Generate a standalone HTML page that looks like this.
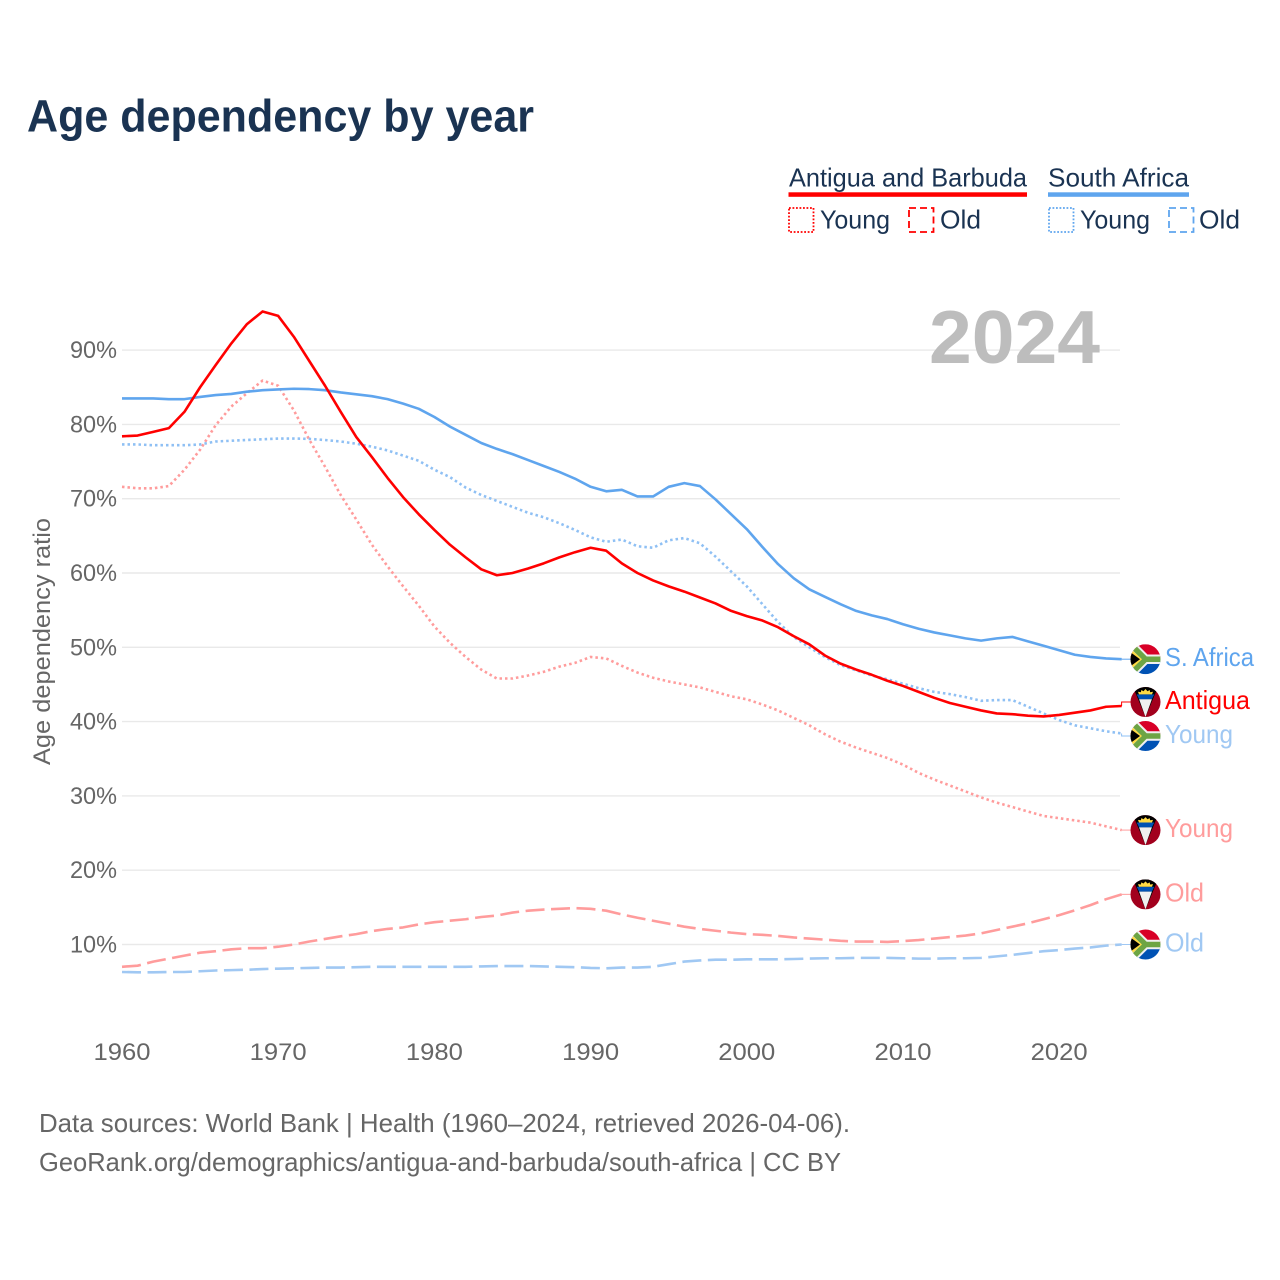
<!DOCTYPE html>
<html lang="en">
<head>
<meta charset="utf-8">
<title>Age dependency by year</title>
<style>
html,body{margin:0;padding:0;background:#fff;}
svg{display:block;font-family:"Liberation Sans",sans-serif;}
</style>
</head>
<body>
<svg id="chart" xmlns="http://www.w3.org/2000/svg" width="1280" height="1280" viewBox="0 0 1280 1280">
<defs>
<clipPath id="flag-clip"><circle cx="0" cy="0" r="15"/></clipPath>
<g id="flag-za" clip-path="url(#flag-clip)">
<rect x="-15" y="-15" width="30" height="15" fill="#d80027"/>
<rect x="-15" y="0" width="30" height="15" fill="#0052b4"/>
<path d="M-15,-15 L0,0 L15,0 M-15,15 L0,0" fill="none" stroke="#f0f0f0" stroke-width="9.5"/>
<path d="M-15,-15 L0,0 L15,0 M-15,15 L0,0" fill="none" stroke="#6da544" stroke-width="5.5"/>
<polygon points="-15,-10.5 -3.5,0 -15,10.5" fill="#ffda44"/>
<polygon points="-15,-7 -5.5,0 -15,7" fill="#000"/>
</g>
<g id="flag-ag" clip-path="url(#flag-clip)">
<rect x="-15" y="-15" width="30" height="30" fill="#a2001d"/>
<polygon points="-12.5,-15 12.5,-15 0,15" fill="#000"/>
<polygon points="-8.8,-7.6 8.8,-7.6 6.4,-2.7 -6.4,-2.7" fill="#0052b4"/>
<polygon points="-6.4,-2.7 6.4,-2.7 0,15" fill="#f0f0f0"/>
<path d="M-6.5,-7.6 L-7.5,-10.2 L-4.6,-9.8 L-4.2,-12 L-2,-10.8 L0,-13 L2,-10.8 L4.2,-12 L4.6,-9.8 L7.5,-10.2 L6.5,-7.6 Z" fill="#ffda44"/>
</g>
</defs>

<rect x="0" y="0" width="1280" height="1280" fill="#fff"/>

<text x="27" y="131.5" font-size="45" font-weight="700" fill="#1a3352" textLength="507" lengthAdjust="spacingAndGlyphs">Age dependency by year</text>

<g font-size="26" fill="#1a3352">
  <text x="789" y="186.5" textLength="238" lengthAdjust="spacingAndGlyphs">Antigua and Barbuda</text>
  <rect x="788.5" y="192.3" width="238.5" height="4.5" fill="#ff0000"/>
  <rect x="789" y="208" width="24.5" height="24" fill="none" stroke="#ff0000" stroke-width="1.8" stroke-dasharray="1.8 1.7"/>
  <text x="820" y="228.5" textLength="70" lengthAdjust="spacingAndGlyphs">Young</text>
  <rect x="909" y="208" width="24.5" height="24" fill="none" stroke="#ff0000" stroke-width="1.8" stroke-dasharray="7 4"/>
  <text x="940" y="228.5" textLength="41" lengthAdjust="spacingAndGlyphs">Old</text>
  <text x="1048" y="186.5" textLength="141" lengthAdjust="spacingAndGlyphs">South Africa</text>
  <rect x="1048" y="192.3" width="141" height="4.5" fill="#5fa5ee"/>
  <rect x="1049" y="208" width="24.5" height="24" fill="none" stroke="#5fa5ee" stroke-width="1.8" stroke-dasharray="1.8 1.7"/>
  <text x="1080" y="228.5" textLength="70" lengthAdjust="spacingAndGlyphs">Young</text>
  <rect x="1169" y="208" width="24.5" height="24" fill="none" stroke="#5fa5ee" stroke-width="1.8" stroke-dasharray="7 4"/>
  <text x="1199" y="228.5" textLength="41" lengthAdjust="spacingAndGlyphs">Old</text>
</g>

<g id="grid"></g>
<g id="y-axis"></g>
<g id="x-axis"></g>

<text x="929" y="363" font-size="75" font-weight="700" fill="#bdbdbd" textLength="171" lengthAdjust="spacingAndGlyphs">2024</text>

<text transform="translate(50,765) rotate(-90)" font-size="24" fill="#666666" textLength="247" lengthAdjust="spacingAndGlyphs">Age dependency ratio</text>

<g id="series"></g>
<g id="end-labels"></g>

<g font-size="26" fill="#666666">
  <text x="39" y="1132" textLength="811" lengthAdjust="spacingAndGlyphs">Data sources: World Bank | Health (1960–2024, retrieved 2026-04-06).</text>
  <text x="39" y="1171" textLength="802" lengthAdjust="spacingAndGlyphs">GeoRank.org/demographics/antigua-and-barbuda/south-africa | CC BY</text>
</g>
</svg>

<script>
const years = [];
for (let yr = 1960; yr <= 2024; yr++) years.push(yr);

const xTickYears = [1960, 1970, 1980, 1990, 2000, 2010, 2020];
const yTickValues = [10, 20, 30, 40, 50, 60, 70, 80, 90];

const antiguaTotal = [78.4,78.5,79,79.5,81.7,85,88,90.9,93.5,95.2,94.6,91.8,88.5,85.2,81.7,78.3,75.6,72.8,70.2,67.9,65.8,63.8,62.1,60.5,59.7,60,60.6,61.3,62.1,62.8,63.4,63,61.3,60,59,58.2,57.5,56.7,55.9,54.9,54.2,53.6,52.7,51.5,50.4,48.9,47.8,47,46.3,45.5,44.8,44,43.2,42.5,42,41.5,41.1,41,40.8,40.7,40.9,41.2,41.5,42,42.1];
const antiguaYoung = [71.6,71.4,71.4,71.7,73.9,76.6,79.9,82.4,84.2,85.9,85.2,81.9,77.9,74.3,70.5,67.2,63.8,60.9,58.2,55.6,52.8,50.6,48.7,47,45.8,45.8,46.2,46.7,47.4,47.9,48.7,48.5,47.5,46.6,45.9,45.4,45,44.6,44,43.4,43,42.3,41.5,40.5,39.5,38.3,37.3,36.5,35.8,35.1,34.2,33.1,32.2,31.4,30.6,29.8,29.1,28.5,27.9,27.3,27,26.7,26.4,25.9,25.4];
const antiguaOld = [7,7.15,7.7,8.1,8.5,8.9,9.1,9.35,9.5,9.5,9.7,10,10.4,10.75,11.1,11.4,11.8,12.1,12.3,12.7,13,13.2,13.4,13.7,13.9,14.3,14.55,14.7,14.8,14.9,14.8,14.55,14.05,13.6,13.2,12.8,12.4,12.1,11.85,11.6,11.4,11.3,11.15,10.95,10.8,10.65,10.5,10.4,10.4,10.35,10.45,10.6,10.8,11,11.2,11.5,11.95,12.4,12.85,13.4,13.95,14.6,15.3,16.1,16.75];
const southAfricaTotal = [83.5,83.5,83.5,83.4,83.4,83.7,83.95,84.1,84.4,84.6,84.7,84.8,84.75,84.6,84.3,84.05,83.8,83.4,82.8,82.1,81,79.7,78.6,77.5,76.7,76,75.2,74.4,73.6,72.7,71.6,71,71.2,70.3,70.3,71.6,72.1,71.7,69.9,67.9,65.9,63.5,61.2,59.3,57.8,56.8,55.8,54.9,54.3,53.8,53.1,52.5,52,51.6,51.2,50.9,51.2,51.4,50.8,50.2,49.6,49,48.7,48.5,48.4];
const southAfricaYoung = [77.3,77.3,77.2,77.2,77.2,77.3,77.7,77.8,77.9,78,78.1,78.1,78.05,77.9,77.7,77.4,77,76.5,75.8,75.1,73.9,72.9,71.5,70.5,69.7,68.9,68.1,67.5,66.7,65.8,64.8,64.2,64.5,63.6,63.4,64.4,64.7,64,62.2,60.2,58.2,55.8,53.4,51.4,50,48.7,47.6,46.9,46.2,45.7,45.1,44.5,44,43.7,43.3,42.8,42.9,42.9,42,41.1,40.2,39.5,39.1,38.7,38.4];
const southAfricaOld = [6.3,6.25,6.25,6.3,6.3,6.4,6.5,6.55,6.6,6.7,6.75,6.8,6.85,6.9,6.9,6.95,7,7,7,7,7,7,7,7.05,7.1,7.1,7.1,7.05,7,6.95,6.85,6.8,6.9,6.9,7,7.35,7.7,7.85,7.95,7.95,8,8,8,8.05,8.1,8.15,8.15,8.2,8.2,8.2,8.15,8.1,8.1,8.15,8.15,8.2,8.4,8.6,8.85,9.1,9.25,9.45,9.6,9.85,10];

const seriesList = [
  {key:'south-africa-old',   values:southAfricaOld,   color:'#a0c8f3', dash:'19 6.5', width:2.6, flag:'flag-za', label:'Old',       labelWidth:39, labelColor:'#a0c8f3', shift:0},
  {key:'antigua-old',        values:antiguaOld,       color:'#ff9c9c', dash:'19 6.5', width:2.6, flag:'flag-ag', label:'Old',       labelWidth:39, labelColor:'#ff9c9c', shift:0},
  {key:'antigua-young',      values:antiguaYoung,     color:'#ff9c9c', dash:'2.5 3',  width:2.6, flag:'flag-ag', label:'Young',     labelWidth:68, labelColor:'#ff9c9c', shift:0},
  {key:'south-africa-young', values:southAfricaYoung, color:'#8fc0f4', dash:'2.5 3',  width:2.6, flag:'flag-za', label:'Young',     labelWidth:68, labelColor:'#a0c8f3', shift:2.5},
  {key:'south-africa-total', values:southAfricaTotal, color:'#5fa5ee', dash:'',       width:2.6, flag:'flag-za', label:'S. Africa', labelWidth:89, labelColor:'#5fa5ee', shift:0},
  {key:'antigua-total',      values:antiguaTotal,     color:'#ff0000', dash:'',       width:2.6, flag:'flag-ag', label:'Antigua',   labelWidth:85, labelColor:'#ff0000', shift:-4}
];

const NS = 'http://www.w3.org/2000/svg';
function xScale(year) { return 122 + (year - 1960) * 15.62; }
function yScale(value) { return 1018.8 - value * 7.43; }
function make(tag, attrs, parent) {
  const el = document.createElementNS(NS, tag);
  for (const k in attrs) el.setAttribute(k, attrs[k]);
  parent.appendChild(el);
  return el;
}

const gridGroup = document.getElementById('grid');
const yAxisGroup = document.getElementById('y-axis');
const xAxisGroup = document.getElementById('x-axis');
const seriesGroup = document.getElementById('series');
const labelGroup = document.getElementById('end-labels');

yTickValues.forEach(function (v) {
  const line = make('line', {x1:122, x2:1120, y1:yScale(v), y2:yScale(v), stroke:'#e9e9e9', 'stroke-width':1.4}, gridGroup);
  
  
  const t = make('text', {x:117, y:yScale(v) + 8, 'text-anchor':'end', 'font-size':24.5, fill:'#666666', textLength:47, lengthAdjust:'spacingAndGlyphs'}, yAxisGroup);
  t.textContent = v + '%';
  
  
});

xTickYears.forEach(function (yr) {
  const t = make('text', {x:xScale(yr), y:1060, 'text-anchor':'middle', 'font-size':24.5, fill:'#666666', textLength:57, lengthAdjust:'spacingAndGlyphs'}, xAxisGroup);
  t.textContent = yr;
  
  
});

seriesList.forEach(function (s) {
  const d = s.values.map(function (v, i) {
    return (i ? 'L' : 'M') + xScale(years[i]).toFixed(2) + ',' + yScale(v).toFixed(2);
  }).join(' ');
  const attrs = {d:d, fill:'none', stroke:s.color, 'stroke-width':s.width, 'stroke-linejoin':'round'};
  if (s.dash) attrs['stroke-dasharray'] = s.dash;
  const path = make('path', attrs, seriesGroup);
  
  

  const endY = yScale(s.values[s.values.length - 1]);
  const flagY = endY + s.shift;
  const conn = make('path', {d:'M1121.6,' + endY.toFixed(2) + ' V' + flagY.toFixed(2) + ' H1131', fill:'none', stroke:s.color, 'stroke-width':1}, labelGroup);
  
  

  const flag = make('use', {href:'#' + s.flag, x:1145.5, y:flagY}, labelGroup);
  
  

  const label = make('text', {x:1165, y:flagY + 7, 'font-size':26, fill:s.labelColor, textLength:s.labelWidth, lengthAdjust:'spacingAndGlyphs'}, labelGroup);
  label.textContent = s.label;
  
  
});
</script>
</body>
</html>
